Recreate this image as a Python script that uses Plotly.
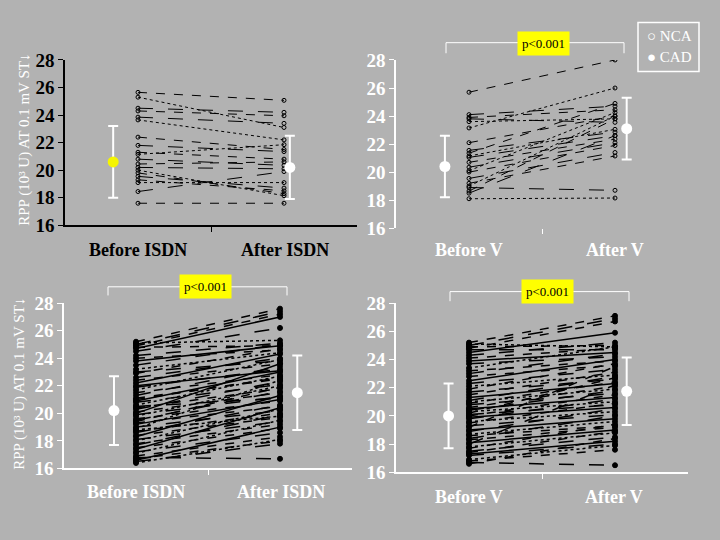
import plotly.graph_objects as go

### Data (RPP, 10^3 U at 0.1 mV ST depression)

# NCA patients, before / after ISDN
nca_isdn_before = [25.65, 25.3, 24.5, 24.3, 23.85, 23.65, 22.4, 21.8, 21.3, 21.15,
                   20.8, 20.45, 20.2, 20.0, 19.8, 19.55, 19.3, 19.1, 18.45, 17.6]
nca_isdn_after = [25.07, 23.1, 24.2, 23.95, 23.4, 22.2, 21.5, 21.35, 20.8, 21.85,
                  20.35, 20.6, 20.1, 18.15, 18.3, 18.7, 18.5, 19.1, 19.9, 17.6]

# NCA patients, before / after V
nca_v_before = [25.7, 23.15, 24.1, 23.9, 23.8, 23.6, 22.1, 21.55, 21.35, 21.15, 21.05,
                20.7, 20.35, 20.1, 20.0, 19.55, 19.2, 19.0, 18.9, 18.65, 18.5, 18.1]
nca_v_after = [28.0, 26.0, 24.7, 24.45, 23.55, 23.8, 24.0, 22.85, 24.9, 23.05, 22.6,
               22.35, 22.1, 24.25, 21.9, 21.4, 21.15, 24.0, 18.7, 23.8, 22.6, 18.15]

# CAD patients, before / after ISDN
cad_isdn_before = [25.2, 25.0, 24.9, 24.7, 24.5, 25.1, 24.8, 24.2, 24.0, 23.8, 23.5, 23.2,
                   22.9, 22.6, 22.4, 22.2, 21.9, 21.7, 21.5, 21.3, 21.1, 20.9, 20.8, 20.6,
                   20.4, 20.3, 20.1, 20.0, 19.9, 19.8, 19.6, 19.5, 19.3, 19.2, 19.0, 18.9,
                   18.7, 18.6, 18.4, 18.3, 18.1, 18.0, 17.8, 17.7, 17.5, 17.4, 17.2, 17.1,
                   16.9, 16.8, 16.7, 16.6, 16.5, 16.4, 19.4, 20.5, 21.0, 22.0, 23.0, 18.8]
cad_isdn_after = [27.6, 27.4, 27.2, 27.0, 26.2, 25.3, 24.9, 25.1, 24.6, 24.9, 25.0, 24.4,
                  24.7, 24.0, 23.6, 24.3, 23.2, 23.9, 22.8, 23.4, 22.5, 23.0, 22.1, 22.7,
                  21.8, 22.3, 21.5, 23.6, 21.2, 22.0, 20.9, 21.6, 20.5, 21.0, 20.2, 22.4,
                  20.0, 20.6, 19.7, 21.3, 19.4, 20.3, 19.2, 19.9, 18.9, 20.4, 18.6, 19.5,
                  18.3, 16.7, 18.0, 19.0, 17.8, 18.1, 21.9, 21.1, 22.6, 23.1, 23.8, 19.8]

# CAD patients, before / after V
cad_v_before = [25.2, 25.0, 24.8, 24.5, 24.3, 25.1, 24.9, 24.7, 24.1, 23.9, 23.7, 23.4,
                23.2, 23.0, 22.8, 22.5, 22.3, 22.1, 21.9, 21.7, 21.5, 21.3, 21.1, 21.0,
                20.9, 20.8, 20.6, 20.5, 20.4, 20.3, 20.2, 20.1, 20.0, 19.9, 19.8, 19.6,
                19.5, 19.3, 19.2, 19.0, 18.9, 18.7, 18.6, 18.4, 18.3, 18.1, 18.0, 17.8,
                17.7, 17.5, 17.4, 17.3, 17.2, 16.9, 16.8, 16.7, 16.6]
cad_v_after = [27.1, 26.9, 26.7, 25.9, 25.2, 24.9, 25.0, 24.7, 24.8, 24.5, 24.2, 24.9,
               23.9, 24.4, 23.6, 24.0, 23.3, 22.9, 23.7, 22.6, 23.1, 22.3, 22.8, 21.9,
               22.4, 21.6, 22.1, 21.3, 21.8, 21.0, 22.7, 20.8, 21.5, 20.6, 21.2, 20.3,
               20.9, 20.1, 23.5, 19.8, 20.5, 19.6, 19.3, 20.0, 19.2, 19.0, 22.2, 18.8,
               19.4, 18.5, 18.9, 18.2, 18.0, 17.9, 17.6, 16.5, 18.4]

# group mean and spread
means = {'nca_isdn': [20.6, 20.2], 'nca_v': [20.4, 23.1],
         'cad_isdn': [20.2, 21.5], 'cad_v': [20.0, 21.75]}
sds = {'nca_isdn': [2.6, 2.3], 'nca_v': [2.2, 2.2],
       'cad_isdn': [2.5, 2.7], 'cad_v': [2.3, 2.4]}

categories = {'nca_isdn': ['Before ISDN', 'After ISDN'], 'nca_v': ['Before V', 'After V'],
              'cad_isdn': ['Before ISDN', 'After ISDN'], 'cad_v': ['Before V', 'After V']}

### Layout helpers

W, H = 720, 540
bg = '#b2b2b2'
serif = 'Liberation Serif'
ytitle = 'RPP (10\u00b3 U) AT 0.1 mV ST\u2193'

def px(x):
    return x / W

def py(y):
    return 1 - y / H

def note(x, y, text, font, **kw):
    d = dict(x=px(x), y=py(y), xref='paper', yref='paper', text=text, showarrow=False,
             xanchor='center', yanchor='middle', font=font)
    d.update(kw)
    return d

# panel: key, axis suffix, x domain px, y domain px (top, bottom), ink colour, err x positions
panels = [
    ('nca_isdn', '', (65, 357), (52, 224), 'black', (0.83, 2.04)),
    ('nca_v', '2', (396, 688), (52, 227), 'white', (0.835, 2.08)),
    ('cad_isdn', '3', (64, 352), (305, 477), 'white', (0.847, 2.12)),
    ('cad_v', '4', (396, 688), (305, 481), 'white', (0.86, 2.08)),
]
data = {'nca_isdn': (nca_isdn_before, nca_isdn_after),
        'nca_v': (nca_v_before, nca_v_after),
        'cad_isdn': (cad_isdn_before, cad_isdn_after),
        'cad_v': (cad_v_before, cad_v_after)}

nca_dashes = ['dash', 'dot', 'longdash', 'dash', 'longdash', 'dot', 'dash', 'longdash']
cad_dashes = ['dash', 'longdash', 'dash', 'solid', 'longdash', 'dot']

fig = go.Figure()
layout = {}

for key, ax, (x0, x1), (ytop, ybot), ink, errx in panels:
    before, after = data[key]
    xa, ya = 'x' + ax, 'y' + ax
    nca = key.startswith('nca')
    dashes = nca_dashes if nca else cad_dashes
    for i, (b, a) in enumerate(zip(before, after)):
        fig.add_trace(go.Scatter(
            x=[1, 2], y=[b, a], xaxis=xa, yaxis=ya, mode='lines+markers',
            line=dict(color='black', width=1 if nca else 1.5, dash=dashes[i % len(dashes)]),
            marker=dict(symbol='circle-open' if nca else 'circle', size=4 if nca else 5,
                        color='black', line=dict(width=1, color='black')),
            showlegend=False, hoverinfo='skip'))
    for j in range(2):
        mcol = '#f5f500' if (key == 'nca_isdn' and j == 0) else 'white'
        fig.add_trace(go.Scatter(
            x=[errx[j]], y=[means[key][j]], xaxis=xa, yaxis=ya, mode='markers',
            marker=dict(color=mcol, size=11),
            error_y=dict(type='data', array=[sds[key][j]], color='white', thickness=2, width=5),
            showlegend=False))

    layout['xaxis' + ax] = dict(domain=[px(x0), px(x1)], range=[0.5, 2.5], anchor=ya,
                                showgrid=False, zeroline=False, tickvals=[1.5], showticklabels=False,
                                ticks='outside', ticklen=5, tickcolor=ink,
                                showline=(key != 'nca_v'), linecolor=ink, linewidth=1.5)
    layout['yaxis' + ax] = dict(domain=[py(ybot), py(ytop)], range=[16, 28], anchor=xa,
                                showgrid=False, zeroline=False, tickvals=list(range(16, 29, 2)),
                                ticks='outside', ticklen=5, tickcolor=ink,
                                showline=True, linecolor=ink, linewidth=1.5,
                                tickfont=dict(family=serif, size=19, color=ink, weight='bold'))

# category labels under each panel
label_pos = {'nca_isdn': ((138, 285), 250), 'nca_v': ((469, 615), 250),
             'cad_isdn': ((136, 281), 502), 'cad_v': ((469, 614), 507)}
annotations = []
for key, ax, _, _, ink, _ in panels:
    (lx0, lx1), ly = label_pos[key]
    for lx, txt in zip((lx0, lx1), categories[key]):
        annotations.append(note(lx, ly, txt, dict(family=serif, size=18, color=ink, weight='bold')))

# axis titles
for yc, xc in ((135, 25), (389, 20)):
    annotations.append(note(xc, yc, ytitle, dict(family=serif, size=15, color='white'), textangle=-90))

# significance brackets
shapes = []
for (bx0, bx1, btop, bbot), (cx, cy) in (((446, 624, 34, 45), (543, 35)),
                                           ((108, 287, 288, 297), (205, 288)),
                                           ((450, 629, 293, 303), (547, 293))):
    shapes.append(dict(type='path', xref='paper', yref='paper',
                       path=f'M {px(bx0)} {py(bbot)} L {px(bx0)} {py(btop)} L {px(bx1)} {py(btop)} L {px(bx1)} {py(bbot)}',
                       line=dict(color='white', width=1)))
    annotations.append(note(cx, cy, 'p&lt;0.001', dict(family=serif, size=13, color='black'),
                            bgcolor='#ffff00', borderpad=4))

# legend box
shapes.append(dict(type='rect', xref='paper', yref='paper', x0=px(638), x1=px(699),
                   y0=py(64), y1=py(13), line=dict(color='white', width=1.5)))
legend_font = dict(family=serif, size=15, color='white')
annotations.append(note(645, 27, '\u25cb NCA', legend_font, xanchor='left'))
annotations.append(note(645, 49, '\u25cf CAD', legend_font, xanchor='left'))

fig.update_layout(width=W, height=H, margin=dict(l=0, r=0, t=0, b=0),
                  paper_bgcolor=bg, plot_bgcolor=bg, showlegend=False,
                  annotations=annotations, shapes=shapes, **layout)

fig.write_html('out.html', config={'displayModeBar': False},
               post_script="document.body.style.margin='0';document.body.style.overflow='hidden';")
